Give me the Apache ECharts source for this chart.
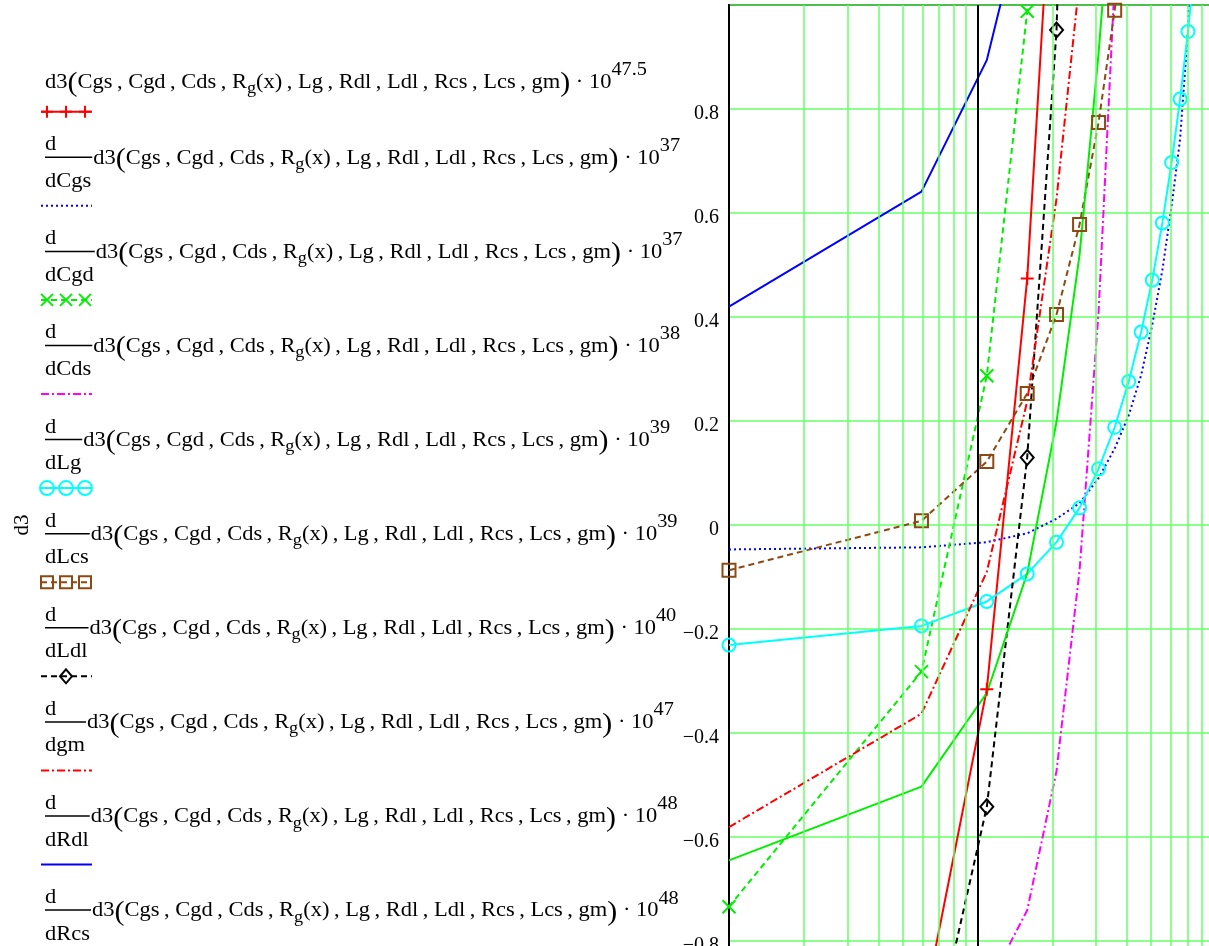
<!DOCTYPE html>
<html>
<head>
<meta charset="utf-8">
<script src="https://cdn.jsdelivr.net/npm/echarts@6/dist/echarts.min.js"></script>
<style>
  html, body { margin: 0; padding: 0; background: #fff; }
  #chart { width: 1209px; height: 946px; }
</style>
</head>
<body>
<div id="chart"></div>
<script>
// x positions of the computed points (log axis, 1 .. 100 in 21 steps)
const xValues = [1, 5.95, 10.9, 15.85, 20.8, 25.75, 30.7, 35.65, 40.6, 45.55, 50.5,
                 55.45, 60.4, 65.35, 70.3, 75.25, 80.2, 85.15, 90.1, 95.05, 100];

// y values, point i sits at xValues[i] (points past the plot edge are estimates)
const d3Scaled = [-3.0, -0.95, -0.316, 0.474, 1.42];
const dCgs = [-0.047, -0.043, -0.033, -0.016, 0.012, 0.042, 0.090, 0.147, 0.211, 0.288,
              0.385, 0.490, 0.613, 0.742, 0.951, 1.3];
const dCgd = [-0.734, -0.282, 0.287, 0.988, 1.83];
const dCds = [-1.6, -1.25, -0.89, -0.741, -0.473, -0.087, 0.409, 1.046, 1.8];
const dLg = [-0.231, -0.194, -0.147, -0.094, -0.033, 0.033, 0.108, 0.188, 0.276, 0.371,
             0.471, 0.581, 0.697, 0.819, 0.949, 1.09];
const dLcs = [-0.087, 0.008, 0.122, 0.253, 0.405, 0.578, 0.774, 0.990, 1.23];
const dLdl = [-3.5, -1.10, -0.542, 0.130, 0.952, 2.5];
const dgm = [-0.581, -0.363, -0.090, 0.238, 0.628, 1.048, 1.5];
const dRdl = [0.42, 0.641, 0.894, 1.21];
const dRcs = [-0.645, -0.503, -0.323, -0.093, 0.199, 0.520, 0.907, 1.3];

// legend texts
const denominators = ['', 'dCgs', 'dCgd', 'dCds', 'dLg', 'dLcs', 'dLdl', 'dgm', 'dRdl', 'dRcs'];
const exponents = ['47.5', '37', '37', '38', '39', '39', '40', '47', '48', '48'];

// minor vertical grid lines of the log axis
const xGridValues = [2, 3, 4, 5, 6, 7, 8, 9, 20, 30, 40, 50, 60, 70, 80, 90];

const seriesValues = [d3Scaled, dCgs, dCgd, dCds, dLg, dLcs, dLdl, dgm, dRdl, dRcs];

const looks = [
  { color: '#ff0000', dash: 'solid', marker: 'plus' },
  { color: '#0000ff', dash: [2, 3], marker: null },
  { color: '#00ee00', dash: [6, 4], marker: 'cross' },
  { color: '#ff00ff', dash: [8, 3, 2, 3], marker: null },
  { color: '#00ffff', dash: 'solid', marker: 'circle' },
  { color: '#8c4a12', dash: [6, 4], marker: 'rect' },
  { color: '#000000', dash: [6, 4], marker: 'diamond' },
  { color: '#ff0000', dash: [8, 3, 2, 3], marker: null },
  { color: '#0000ff', dash: 'solid', marker: null },
  { color: '#00ee00', dash: 'solid', marker: null }
];

const symbols = {
  plus: 'path://M0,6H12M6,0V12',
  cross: 'path://M0,0L12,12M12,0L0,12',
  circle: 'circle',
  rect: 'rect',
  diamond: 'diamond'
};

const FONT = '"Liberation Serif", "Times New Roman", serif';
const MAIN = 21, PAREN = 28, SUB = 17, SUP = 19;
const SX = 1.07;          // mathcad text is drawn a little wider than the font metrics
const GRID_GREEN = '#66ff66';

const ctx = document.createElement('canvas').getContext('2d');
function textWidth(t, size) {
  ctx.font = size + 'px ' + FONT;
  return ctx.measureText(t).width;
}

function textEl(text, x, baseline, size) {
  return {
    type: 'text', x: x, y: baseline - 0.33 * size, silent: true,
    style: {
      text: text, font: size + 'px ' + FONT, fill: '#000',
      align: 'left', verticalAlign: 'middle',
      textAlign: 'left', textVerticalAlign: 'middle'
    }
  };
}

// one legend formula, laid out in unscaled units inside a scaled group
function formula(k, baseline) {
  const parts = [
    ['d3', MAIN, 0],
    ['(', PAREN, 4],
    ['Cgs\u2009, Cgd\u2009, Cds\u2009, R', MAIN, 0],
    ['g', SUB, 5],
    ['(x)\u2009, Lg\u2009, Rdl\u2009, Ldl\u2009, Rcs\u2009, Lcs\u2009, gm', MAIN, 0],
    [')', PAREN, 4],
    [' \u00B7 10', MAIN, 0],
    [exponents[k], SUP, -13]
  ];
  const children = [];
  let cx = 0;
  const den = denominators[k];
  if (den) {
    const bar = baseline - 7.7;
    const w = textWidth(den, MAIN);
    children.push(textEl('d', 0, bar - 5.6, MAIN));
    children.push(textEl(den, 0, bar + 31, MAIN));
    children.push({
      type: 'line', silent: true,
      shape: { x1: 0, y1: bar, x2: w + 1, y2: bar },
      style: { stroke: '#000', lineWidth: 1.5 }
    });
    cx = w + 2;
  }
  parts.forEach(function (p) {
    children.push(textEl(p[0], cx, baseline + p[2], p[1]));
    cx += textWidth(p[0], p[1]);
  });
  return { type: 'group', x: 45, y: 0, scaleX: SX, scaleY: 1, children: children };
}

function sample(k, y) {
  const lk = looks[k];
  const els = [{
    type: 'line', silent: true,
    shape: { x1: 41, y1: y, x2: 92, y2: y },
    style: { stroke: lk.color, lineWidth: 2, lineDash: lk.dash === 'solid' ? null : lk.dash }
  }];
  const xs = lk.marker === 'diamond' ? [66] : [47, 66, 85];
  if (!lk.marker) return els;
  xs.forEach(function (mx) {
    const st = { stroke: lk.color, lineWidth: 2, fill: 'none' };
    if (lk.marker === 'plus') {
      els.push({ type: 'line', silent: true, shape: { x1: mx - 6, y1: y, x2: mx + 6, y2: y }, style: st });
      els.push({ type: 'line', silent: true, shape: { x1: mx, y1: y - 6, x2: mx, y2: y + 6 }, style: st });
    } else if (lk.marker === 'cross') {
      els.push({ type: 'line', silent: true, shape: { x1: mx - 6, y1: y - 6, x2: mx + 6, y2: y + 6 }, style: st });
      els.push({ type: 'line', silent: true, shape: { x1: mx + 6, y1: y - 6, x2: mx - 6, y2: y + 6 }, style: st });
    } else if (lk.marker === 'circle') {
      els.push({ type: 'circle', silent: true, shape: { cx: mx, cy: y, r: 7 }, style: st });
    } else if (lk.marker === 'rect') {
      els.push({ type: 'rect', silent: true, shape: { x: mx - 6, y: y - 6, width: 12, height: 12 }, style: st });
    } else if (lk.marker === 'diamond') {
      els.push({ type: 'polygon', silent: true,
        shape: { points: [[mx, y - 7], [mx + 6, y], [mx, y + 7], [mx - 6, y]] }, style: st });
    }
  });
  return els;
}

const graphics = [];
for (let k = 0; k < seriesValues.length; k++) {
  let baseline, sy;
  if (k === 0) {
    baseline = 89; sy = 111.7;
  } else {
    const bar = 157.3 + 94.1 * (k - 1);
    baseline = bar + 7.7; sy = bar + 48.5;
  }
  graphics.push(formula(k, baseline));
  sample(k, sy).forEach(function (e) { graphics.push(e); });
}
graphics.push({
  type: 'text', x: 22.5, y: 525, rotation: Math.PI / 2, silent: true,
  style: {
    text: 'd3', font: MAIN + 'px ' + FONT, fill: '#000',
    align: 'center', verticalAlign: 'middle', textAlign: 'center', textVerticalAlign: 'middle'
  }
});

const series = seriesValues.map(function (vals, k) {
  const lk = looks[k];
  return {
    type: 'line',
    data: vals.map(function (v, i) { return [xValues[i], v]; }),
    symbol: lk.marker ? symbols[lk.marker] : 'none',
    symbolSize: lk.marker === 'diamond' ? [13, 15] : 13,
    showSymbol: !!lk.marker,
    lineStyle: { color: lk.color, width: 2, type: lk.dash },
    itemStyle: { color: 'rgba(0,0,0,0)', borderColor: lk.color, borderWidth: 2 },
    emphasis: { disabled: true },
    silent: true,
    clip: true,
    z: 3
  };
});

// green minor grid lines plus the black line at the decade
series.push({
  type: 'line', data: [], z: 1, silent: true,
  markLine: {
    silent: true, animation: false, symbol: ['none', 'none'],
    label: { show: false },
    emphasis: { disabled: true },
    lineStyle: { color: GRID_GREEN, width: 1.5, type: 'solid' },
    data: xGridValues.map(function (v) { return { xAxis: v }; })
      .concat([{ xAxis: 10, lineStyle: { color: '#000', width: 2, type: 'solid' } }])
  }
});

const chart = echarts.init(document.getElementById('chart'));
chart.setOption({
  animation: false,
  backgroundColor: '#fff',
  grid: {
    left: 729, top: 5, width: 497, height: 1040,
    show: true, borderColor: '#000', borderWidth: 2, backgroundColor: 'rgba(0,0,0,0)',
    containLabel: false, outerBoundsMode: 'none'
  },
  xAxis: {
    type: 'log', logBase: 10, min: 1, max: 100,
    axisLine: { show: false }, axisTick: { show: false },
    axisLabel: { show: false }, splitLine: { show: false }
  },
  yAxis: {
    type: 'value', min: -1, max: 1, interval: 0.2,
    axisLine: { show: true, onZero: false, lineStyle: { color: '#000', width: 2 } },
    axisTick: { show: false },
    axisLabel: {
      color: '#000', fontFamily: FONT, fontSize: 20, margin: 10,
      verticalAlign: 'top', lineHeight: 10,
      formatter: function (v) {
        if (Math.abs(v) > 0.99) return '';
        if (Math.abs(v) < 1e-9) return '0';
        return (v < 0 ? '\u2212' : '') + Math.abs(v).toFixed(1);
      }
    },
    splitLine: { show: true, lineStyle: { color: GRID_GREEN, width: 1.5 } }
  },
  series: series,
  graphic: graphics
});
</script>
</body>
</html>
